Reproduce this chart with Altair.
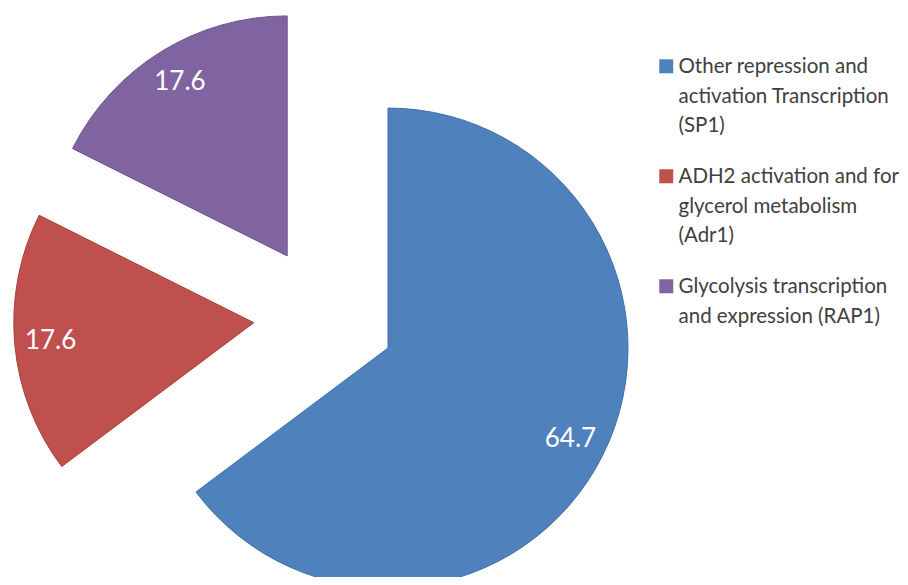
import altair as alt
import pandas as pd
import math

categories = [
    "Other repression and\nactivation Transcription\n(SP1)",
    "ADH2 activation and for\nglycerol metabolism\n(Adr1)",
    "Glycolysis transcription\nand expression (RAP1)",
]
values = [64.7, 17.6, 17.6]
colors = ["#4F81BD", "#C0504D", "#8064A2"]
strokes = ["#3F6FA8", "#A8403D", "#6C5290"]

# layout (pixels, chart coordinates)
CX, CY = 316.5, 308.3
R = 240
EXPLODE = 71
LABEL_R = 204

total = sum(values)
rows = []
acc = 0.0
for cat, v in zip(categories, values):
    t0 = acc / total * 2 * math.pi
    acc += v
    t1 = acc / total * 2 * math.pi
    mid = (t0 + t1) / 2
    rows.append({
        "category": cat,
        "value": v,
        "label": f"{v:.1f}",
        "t0": t0,
        "t1": t1,
        "mid": mid,
        "cx": CX + EXPLODE * math.sin(mid),
        "cy": CY - EXPLODE * math.cos(mid),
    })
df = pd.DataFrame(rows)

color = alt.Color(
    "category:N",
    sort=categories,
    scale=alt.Scale(domain=categories, range=colors),
    legend=alt.Legend(
        title=None,
        orient="none",
        legendX=648,
        legendY=39,
        symbolType="M-1,0.29H1V2.29H-1Z",
        symbolSize=196,
        symbolStrokeWidth=0,
        labelFont="Lato",
        labelFontSize=20.5,
        labelColor="#404040",
        labelExpr="split(datum.label, '\\n')",
        labelBaseline="top",
        labelLimit=400,
        labelOffset=2,
        rowPadding=20,
    ),
)

arcs = alt.Chart(df).mark_arc(outerRadius=R, strokeWidth=1).encode(
    x=alt.X("cx:Q", scale=None, axis=None),
    y=alt.Y("cy:Q", scale=None, axis=None),
    theta=alt.Theta("t0:Q", scale=None, stack=None),
    theta2="t1:Q",
    color=color,
    stroke=alt.Stroke("category:N", scale=alt.Scale(domain=categories, range=strokes), legend=None),
)

labels = alt.Chart(df).mark_text(
    font="Lato", fontSize=26, color="white", align="center", baseline="middle"
).encode(
    x=alt.X("cx:Q", scale=None, axis=None),
    y=alt.Y("cy:Q", scale=None, axis=None),
    theta=alt.Theta("mid:Q", scale=None, stack=None),
    radius=alt.value(LABEL_R),
    text="label:N",
)

chart = alt.layer(arcs, labels).properties(
    width=892, height=569, padding=0, autosize=alt.AutoSizeParams(type="none")
).configure(
    style={"guide-label": {"lineHeight": 29.5}},
    view=alt.ViewConfig(stroke=None),
)

chart.save("out.html", embed_options={"renderer": "svg", "actions": False})
